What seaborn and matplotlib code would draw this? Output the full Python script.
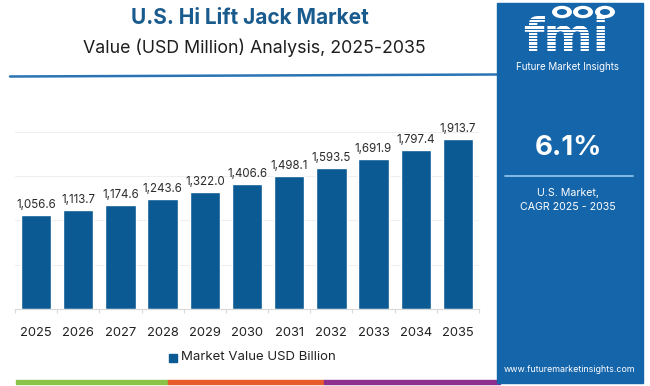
import matplotlib
matplotlib.use('Agg')
import matplotlib.pyplot as plt
import seaborn as sns
import pandas as pd
import numpy as np
from matplotlib.patches import Rectangle, Circle
from matplotlib.lines import Line2D

years = ['2025', '2026', '2027', '2028', '2029', '2030',
         '2031', '2032', '2033', '2034', '2035']
values = [1056.6, 1113.7, 1174.6, 1243.6, 1322.0, 1406.6,
          1498.1, 1593.5, 1691.9, 1797.4, 1913.7]
value_labels = ['1,056.6', '1,113.7', '1,174.6', '1,243.6', '1,322.0', '1,406.6',
                '1,498.1', '1,593.5', '1,691.9', '1,797.4', '1,913.7']
grid_values = [500, 1000, 1500, 2000]

title = 'U.S. Hi Lift Jack Market'
subtitle = 'Value (USD Million) Analysis, 2025-2035'
legend_label = 'Market Value USD Billion'
cagr_text = '6.1%'
cagr_caption = 'U.S. Market,\nCAGR 2025 - 2035'
site = 'www.futuremarketinsights.com'

BAR = '#0b5a93'
PANEL = '#1565ab'
TITLE_BLUE = '#1a5b8e'
W, H = 650, 386

sns.set_theme(style='white')
plt.rcParams['font.family'] = ['Inter', 'DejaVu Sans']

df = pd.DataFrame({'year': years, 'value': values})

fig = plt.figure(figsize=(W / 100, H / 100), dpi=100)
fig.patch.set_facecolor('white')


def fx(px):
    return px / W


def fy(py):
    return 1 - py / H


# main chart area
ax = fig.add_axes([fx(15), fy(309), fx(464), (309 - 114) / H])
for g in grid_values:
    ax.axhline(g, color='#efefef', lw=0.8, zorder=0)
sns.barplot(data=df, x='year', y='value', color=BAR, width=0.72,
            saturation=1, ax=ax, zorder=2)
for i, (v, lab) in enumerate(zip(values, value_labels)):
    ax.text(i, v + 45, lab, ha='center', va='bottom', fontsize=8.3,
            color='#2b2b2b')
ax.set_xlim(-0.5, 10.5)
ax.set_ylim(0, 2200)
ax.set_yticks([])
ax.set_xlabel('')
ax.set_ylabel('')
for s in ['left', 'right', 'top']:
    ax.spines[s].set_visible(False)
ax.spines['bottom'].set_color('#d9d9d9')
ax.spines['bottom'].set_linewidth(0.8)
ax.set_xticks(np.arange(-0.5, 11, 1), minor=True)
ax.tick_params(axis='x', which='major', length=0, pad=13, labelsize=9.3,
               labelcolor='#222222')
ax.tick_params(axis='x', which='minor', length=3, width=0.8, color='#d9d9d9',
               bottom=True)
ax.set_facecolor('none')

# legend
fig.patches.append(Rectangle((fx(169), fy(362)), fx(8), 8 / H,
                             transform=fig.transFigure, color=BAR))
fig.text(fx(181), fy(357.5), legend_label, ha='left', va='center',
         fontsize=9.5, color='#222222')

# title block
fig.text(fx(250), fy(18), title, ha='center', va='center', fontsize=15,
         fontweight='bold', color=TITLE_BLUE)
fig.text(fx(254), fy(48), subtitle, ha='center', va='center', fontsize=12.8,
         color='#1e1e1e')
fig.lines.append(Line2D([fx(10), fx(497)], [fy(76.5), fy(74.5)],
                        transform=fig.transFigure, color='#2a74b3', lw=1.8))

# bottom colour strip
for x0, x1, c in [(16, 168, '#8bc24a'), (168, 324, '#e65c2a'), (324, 500, '#8e2e8f')]:
    fig.patches.append(Rectangle((fx(x0), fy(384)), fx(x1 - x0), 4 / H,
                                 transform=fig.transFigure, color=c))

# right panel
fig.patches.append(Rectangle((fx(497), fy(383)), fx(146), 380 / H,
                             transform=fig.transFigure, color=PANEL, zorder=3))
fig.text(fx(566), fy(51), 'fmi', ha='center', va='baseline', fontsize=34,
         fontweight='bold', color='white', zorder=4,
         family=['DejaVu Sans'])
for yy in np.arange(19, 52, 3.2):
    fig.lines.append(Line2D([fx(512), fx(622)], [fy(yy), fy(yy)],
                            transform=fig.transFigure, color=PANEL,
                            lw=0.7, zorder=5))
for cx in [562, 583, 605]:
    fig.patches.append(Circle((fx(cx), fy(12)), 5.5 / H,
                              transform=fig.transFigure, facecolor='white',
                              edgecolor='white', zorder=6))
    fig.patches.append(Circle((fx(cx), fy(12)), 3 / H,
                              transform=fig.transFigure, facecolor=PANEL,
                              edgecolor='none', zorder=7))
fig.text(fx(568), fy(67), 'Future Market Insights', ha='center', va='center',
         fontsize=7, color='white', zorder=6)
fig.text(fx(568), fy(148), cagr_text, ha='center', va='center', fontsize=20,
         fontweight='bold', color='white', zorder=6)
fig.lines.append(Line2D([fx(505), fx(633)], [fy(176), fy(176)],
                        transform=fig.transFigure, color='#8cc2ec', lw=1.3,
                        zorder=6))
fig.text(fx(568), fy(200), cagr_caption, ha='center', va='center',
         fontsize=7.6, color='white', linespacing=1.55, zorder=6)
fig.text(fx(570), fy(369), site, ha='center', va='center', fontsize=6.4,
         color='white', zorder=6)

fig.savefig('out.png', dpi=100)
